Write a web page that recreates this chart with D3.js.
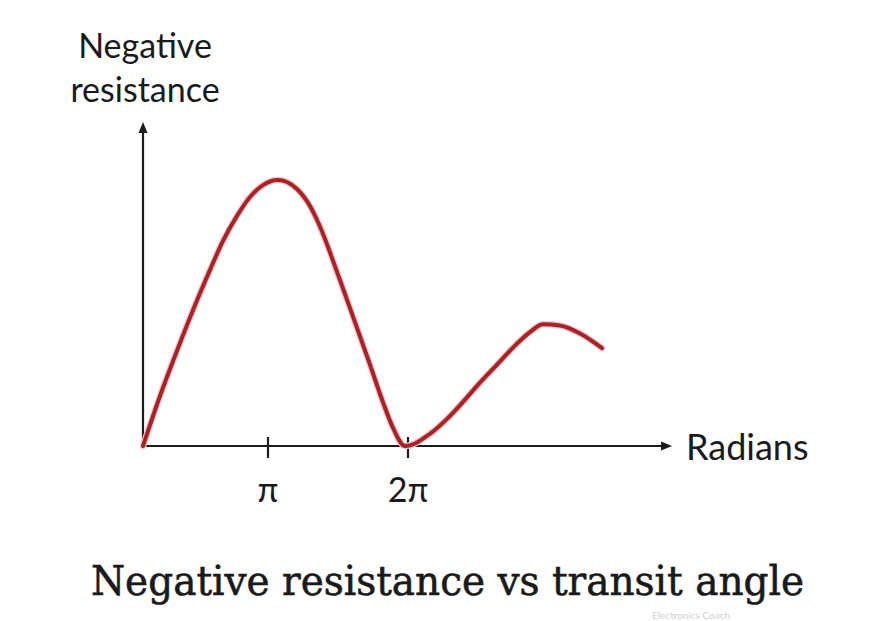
<!DOCTYPE html>
<html>
<head>
<meta charset="utf-8">
<script src="https://cdn.jsdelivr.net/npm/d3@7"></script>
<style>
  html, body { margin: 0; padding: 0; background: #fff; }
  svg { display: block; }
</style>
</head>
<body>
<svg id="chart" width="870" height="621"></svg>
<script>
// Transit angle in multiples of π, and relative negative resistance (0-100)
const anglePi = [0, 0.136, 0.296, 0.44, 0.536, 0.64, 0.752, 0.856, 0.96, 1.071, 1.207, 1.30, 1.357, 1.514, 1.621, 1.729, 1.821, 1.893, 1.979, 2.157, 2.279, 2.393, 2.514, 2.636, 2.75, 2.871, 2.964, 3.086, 3.229, 3.386];
const resistance = [0, 18.8, 38.7, 55.6, 66.2, 77.1, 86.5, 93.6, 98.1, 100, 96.6, 90.2, 84.2, 62.4, 46.6, 30.5, 16.5, 6.8, 0, 4.6, 10.2, 16.6, 23.8, 30.6, 37.0, 42.8, 45.8, 45.3, 42.3, 36.8];
const tickValues = [1, 2];
const tickLabels = ["π", "2π"];
const titleText = "Negative resistance vs transit angle";
const yLabelLines = ["Negative", "resistance"];
const xLabel = "Radians";

const svg = d3.select("#chart");

const x = d3.scaleLinear().domain([0, 1, 2]).range([143, 268, 408]);
const y = d3.scaleLinear().domain([0, 100]).range([446, 180]);

const axisColor = "#1c1c1c";
const xEnd = 3.886;  // arrow tip of x axis (in π units)
const yEnd = 121.8;  // arrow tip of y axis

// x axis line
svg.append("line")
  .attr("x1", x(0)).attr("y1", y(0))
  .attr("x2", x(xEnd) - 8).attr("y2", y(0))
  .attr("stroke", axisColor).attr("stroke-width", 2.2);
svg.append("path")
  .attr("d", `M${x(xEnd)},${y(0)} L${x(xEnd) - 11},${y(0) - 4.5} L${x(xEnd) - 11},${y(0) + 4.5} Z`)
  .attr("fill", axisColor);

// y axis line
svg.append("line")
  .attr("x1", x(0)).attr("y1", y(0) + 1)
  .attr("x2", x(0)).attr("y2", y(yEnd) + 8)
  .attr("stroke", axisColor).attr("stroke-width", 2.2);
svg.append("path")
  .attr("d", `M${x(0)},${y(yEnd)} L${x(0) - 4.5},${y(yEnd) + 11} L${x(0) + 4.5},${y(yEnd) + 11} Z`)
  .attr("fill", axisColor);

// ticks
const ticks = svg.append("g");
tickValues.forEach((v, i) => {
  ticks.append("line")
    .attr("x1", x(v)).attr("x2", x(v))
    .attr("y1", y(0) - 9).attr("y2", y(0) + 12)
    .attr("stroke", axisColor).attr("stroke-width", 2.2);
  ticks.append("text")
    .attr("x", x(v)).attr("y", 502)
    .attr("text-anchor", "middle")
    .attr("font-family", "Lato, 'Open Sans', sans-serif")
    .attr("font-size", 34)
    .attr("fill", "#1a1a1a")
    .text(tickLabels[i]);
});

// curve
const data = anglePi.map((a, i) => ({ a, r: resistance[i] }));
const line = d3.line()
  .x(d => x(d.a))
  .y(d => y(d.r))
  .curve(d3.curveMonotoneX);

svg.append("path")
  .datum(data)
  .attr("d", line)
  .attr("fill", "none")
  .attr("stroke", "#f4c4c4")
  .attr("stroke-width", 6.5)
  .attr("stroke-linecap", "round");
svg.append("path")
  .datum(data)
  .attr("d", line)
  .attr("fill", "none")
  .attr("stroke", "#a8222a")
  .attr("stroke-width", 4)
  .attr("stroke-linecap", "round");

// y label
const yl = svg.append("text")
  .attr("font-family", "Lato, 'Open Sans', sans-serif")
  .attr("font-size", 34)
  .attr("fill", "#1a1a1a")
  .attr("text-anchor", "middle");
yl.append("tspan").attr("x", 145).attr("y", 58).text(yLabelLines[0]);
yl.append("tspan").attr("x", 145).attr("y", 102).text(yLabelLines[1]);

// x label
svg.append("text")
  .attr("x", 686).attr("y", 460)
  .attr("font-family", "Lato, 'Open Sans', sans-serif")
  .attr("font-size", 36)
  .attr("fill", "#1a1a1a")
  .text(xLabel);

// title
svg.append("text")
  .attr("x", 91).attr("y", 595)
  .attr("font-family", "'DejaVu Serif', serif")
  .attr("font-size", 41)
  .attr("textLength", 713)
  .attr("lengthAdjust", "spacingAndGlyphs")
  .attr("fill", "#1a1a1a")
  .attr("stroke", "#1a1a1a")
  .attr("stroke-width", 0.6)
  .text(titleText);

// faint watermark
svg.append("text")
  .attr("x", 652).attr("y", 619)
  .attr("font-family", "Lato, sans-serif")
  .attr("font-size", 10)
  .attr("fill", "#cfcfcf")
  .text("Electronics Coach");
</script>
</body>
</html>
